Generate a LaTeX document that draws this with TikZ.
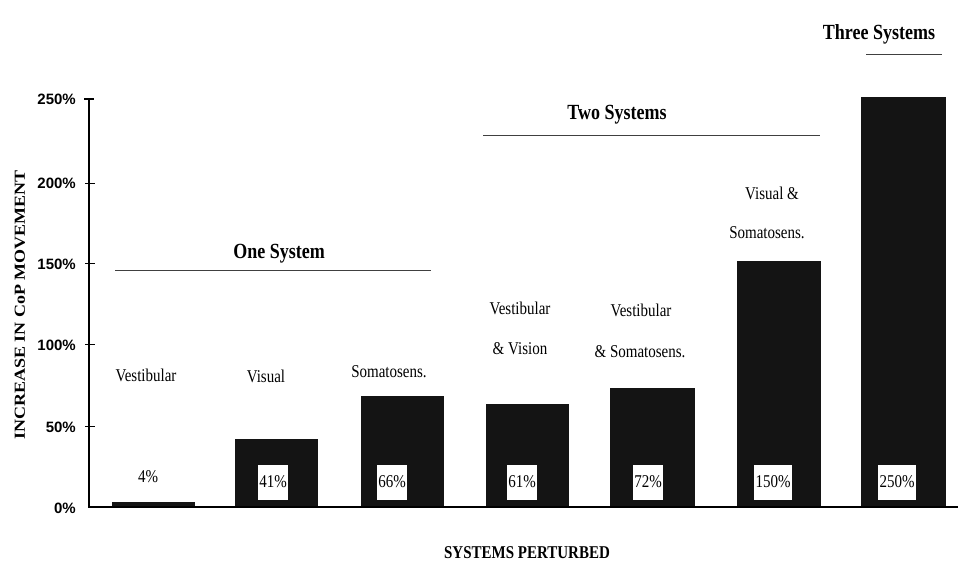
\documentclass[tikz,border=0pt]{standalone}
\usepackage{fontspec}
\setmainfont{Liberation Serif}
\setsansfont{Liberation Sans}
\usepackage{graphicx}
\usetikzlibrary{positioning}
\newcommand{\tallish}[1]{\scalebox{1}[1.2]{#1}}

\begin{document}
\begin{tikzpicture}[x=1pt, y=-1pt,
        bar/.style={fill=black!92},
        barlabel/.style={font=\fontsize{15}{15}\selectfont, inner sep=0pt},
        valuebox/.style={fill=white, font=\fontsize{15}{15}\selectfont, inner sep=1.5pt, minimum height=35pt},
        grouplabel/.style={font=\fontsize{18}{18}\selectfont\bfseries, inner sep=0pt},
        groupline/.style={draw=black!75, line width=0.9pt},
        ticklabel/.style={font=\sffamily\bfseries\fontsize{15}{15}\selectfont, anchor=east, inner sep=0pt},
        axis/.style={line width=1.1pt}]
            \useasboundingbox (0,0) rectangle (958,563);
            \coordinate (origin) at ( 89,507);
            \coordinate (ytop)   at ( 89, 99);
            \coordinate (xend)   at (958,507);
            \fill[bar] (112,507) rectangle (195,502);
            \fill[bar] (235,507) rectangle (318,439);
            \fill[bar] (361,507) rectangle (444,396);
            \fill[bar] (486,507) rectangle (569,404);
            \fill[bar] (610,507) rectangle (695,388);
            \fill[bar] (737,507) rectangle (821,261);
            \fill[bar] (861,507) rectangle (946, 97);
            \draw[axis] (ytop) -- (origin) -- (xend);
            \draw[axis] (84, 99) -- (94, 99);
            \draw (85,183) -- (95,183);
            \draw (85,263) -- (95,263);
            \draw (85,344) -- (95,344);
            \draw (85,426) -- (95,426);
            \node[ticklabel] (t250) at (76, 99) {250\%};
            \node[ticklabel] (t200) at (76,183) {200\%};
            \node[ticklabel] (t150) at (76,264) {150\%};
            \node[ticklabel] (t100) at (76,345) {100\%};
            \node[ticklabel] (t50)  at (76,427) {50\%};
            \node[ticklabel] (t0)   at (76,508) {0\%};
            \node[rotate=90, font=\fontsize{18}{18}\selectfont\bfseries] (ytitle) at (20,305) {\scalebox{1}[0.85]{INCREASE IN CoP MOVEMENT}};
            \node[font=\fontsize{15}{15}\selectfont\bfseries] (xtitle) at (527,553) {\tallish{SYSTEMS PERTURBED}};
            \node[barlabel] (vest)      at (146,375) {\tallish{Vestibular}};
            \node[barlabel] (vis)       at (266,376) {\tallish{Visual}};
            \node[barlabel] (soma)      at (389,372) {\tallish{Somatosens.}};
            \node[barlabel] (vestvis1)  at (520,308) {\tallish{Vestibular}};
            \node[barlabel] (vestvis2)  at (520,349) {\tallish{\& Vision}};
            \node[barlabel] (vestsom1)  at (641,310) {\tallish{Vestibular}};
            \node[barlabel] (vestsom2)  at (640,352) {\tallish{\& Somatosens.}};
            \node[barlabel] (vissom1)   at (772,193) {\tallish{Visual \&}};
            \node[barlabel] (vissom2)   at (767,233) {\tallish{Somatosens.}};
            \node[barlabel] (v4)        at (148,477) {\tallish{4\%}};
            \node[valuebox] (v41)  at (273,482) {\tallish{41\%}};
            \node[valuebox] (v66)  at (392,482) {\tallish{66\%}};
            \node[valuebox] (v61)  at (522,482) {\tallish{61\%}};
            \node[valuebox] (v72)  at (648,482) {\tallish{72\%}};
            \node[valuebox] (v150) at (773,482) {\tallish{150\%}};
            \node[valuebox] (v250) at (897,482) {\tallish{250\%}};
            \node[grouplabel] (one)   at (279,254) {\tallish{One System}};
            \node[grouplabel] (two)   at (617,115) {\tallish{Two Systems}};
            \node[grouplabel] (three) at (879, 34) {\tallish{Three Systems}};
            \draw[groupline] (115,270) -- (431,270);
            \draw[groupline] (483,135) -- (820,135);
            \draw[groupline] (866, 54) -- (942, 54);
        \end{tikzpicture}
\end{document}
